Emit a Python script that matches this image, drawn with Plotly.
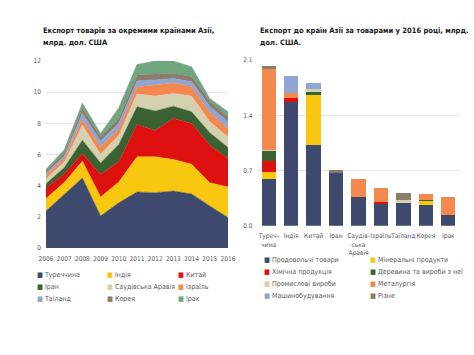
import plotly.graph_objects as go

# ---------------- Data: left chart (exports by country, bn USD) ----------------
years = [2006, 2007, 2008, 2009, 2010, 2011, 2012, 2013, 2014, 2015, 2016]
turkey = [2.38, 3.45, 4.50, 2.06, 2.90, 3.60, 3.55, 3.66, 3.47, 2.70, 1.95]
india = [0.79, 0.75, 1.07, 1.22, 1.34, 2.25, 2.30, 2.02, 1.91, 1.48, 1.97]
china = [0.68, 0.55, 0.49, 1.43, 1.29, 2.08, 1.69, 2.63, 2.61, 2.42, 1.82]
iran = [0.28, 0.40, 0.86, 0.75, 1.11, 1.13, 1.25, 0.79, 0.75, 0.80, 0.71]
saudi = [0.32, 0.35, 0.96, 0.56, 0.60, 0.82, 0.96, 0.82, 1.01, 0.70, 0.68]
israel = [0.20, 0.25, 0.37, 0.48, 0.39, 0.47, 0.71, 0.68, 0.60, 0.60, 0.54]
thailand = [0.15, 0.15, 0.38, 0.36, 0.37, 0.36, 0.32, 0.28, 0.32, 0.40, 0.43]
korea = [0.15, 0.20, 0.33, 0.28, 0.30, 0.39, 0.38, 0.32, 0.33, 0.30, 0.32]
iraq = [0.10, 0.20, 0.34, 0.21, 0.70, 0.68, 0.84, 0.80, 0.63, 0.20, 0.32]

country_names = ["Туреччина", "Індія", "Китай", "Іран", "Саудівська Аравія",
                 "Ізраїль", "Таїланд", "Корея", "Ірак"]
country_values = [turkey, india, china, iran, saudi, israel, thailand, korea, iraq]
left_yticks = [0, 2, 4, 6, 8, 10, 12]

# ---------------- Data: right chart (2016 exports by product group) ----------------
bar_categories = ["Туреччина", "Індія", "Китай", "Іран", "Саудівська Аравія",
                  "Ізраїль", "Таїланд", "Корея", "Ірак"]
bar_ticklabels = ["Туреч-<br>чина", "Індія", "Китай", "Іран", "Саудів-<br>ська<br>Аравія",
                  "Ізраїль", "Таїланд", "Корея", "Ірак"]
food = [0.59, 1.57, 1.02, 0.67, 0.37, 0.28, 0.30, 0.265, 0.135]
mineral = [0.085, 0, 0.64, 0, 0, 0, 0, 0.05, 0]
chemical = [0.15, 0.05, 0, 0, 0, 0.02, 0, 0, 0]
wood = [0.13, 0, 0.04, 0, 0, 0, 0, 0.015, 0]
industrial = [0.01, 0, 0.03, 0, 0, 0, 0.02, 0, 0]
metallurgy = [1.02, 0.06, 0, 0, 0.22, 0.18, 0, 0.07, 0.235]
machinery = [0, 0.22, 0.08, 0, 0, 0, 0, 0, 0]
misc = [0.035, 0, 0, 0.03, 0, 0, 0.09, 0, 0]

product_names = ["Продовольчі товари", "Мінеральні продукти", "Хімічна продукція",
                 "Деревина та вироби з неї", "Промислові вироби", "Металургія",
                 "Машинобудування", "Різне"]
product_values = [food, mineral, chemical, wood, industrial, metallurgy, machinery, misc]
right_yticks = [0.0, 0.7, 1.4, 2.1]
right_yticktext = ["0.0", "0.7", "1.4", "2.1"]

left_title = ["Експорт товарів за окремими країнами Азії,", "млрд. дол. США"]
right_title = ["Експорт до країн Азії за товарами у 2016 році, млрд.", "дол. США."]

# ---------------- Styles ----------------
palette = ["#3d4a6e", "#f7c80f", "#de1010", "#3b6233", "#d5d0ae",
           "#f5884f", "#8ea6d4", "#8c7c6c", "#6fa67f"]
product_palette = ["#3d4a6e", "#f7c80f", "#de1010", "#3b6233", "#d5d0ae",
                   "#f5884f", "#8ea6d4", "#8c7c6c"]
FONT = "DejaVu Sans Condensed"
TXT = "#595959"
W, H = 474, 355


def px_x(x):
    return x / W


def px_y(y):
    return (H - y) / H


fig = go.Figure()

for name, vals, col in zip(country_names, country_values, palette):
    fig.add_trace(go.Scatter(
        x=years, y=vals, name=name, mode="lines", stackgroup="one",
        line=dict(width=0.5, color=col), fillcolor=col,
        xaxis="x", yaxis="y", showlegend=False, hoverinfo="x+y+name"))

for name, vals, col in zip(product_names, product_values, product_palette):
    fig.add_trace(go.Bar(
        x=bar_categories, y=vals, name=name, marker=dict(color=col, line=dict(width=0)),
        xaxis="x2", yaxis="y2", showlegend=False))

annotations = []
# Titles (one annotation per line to control line spacing)
for title, x0 in ((left_title, 41), (right_title, 258)):
    for line, yc in zip(title, (30, 43)):
        annotations.append(dict(
            text=f"<b>{line}</b>", x=px_x(x0), y=px_y(yc), xref="paper", yref="paper",
            xanchor="left", yanchor="middle", align="left", showarrow=False,
            font=dict(family=FONT, size=7.5, color="#1a1a1a")))

# Legend (left): 3 columns x 3 rows
lcols = [35, 105, 176]
lrows = [275, 287, 299]
for i, (name, col) in enumerate(zip(country_names, palette)):
    r, c = divmod(i, 3)
    annotations.append(dict(
        text=f"<span style='color:{col}'>■</span> {name}",
        x=px_x(lcols[c]), y=px_y(lrows[r]), xref="paper", yref="paper",
        xanchor="left", yanchor="middle", showarrow=False,
        font=dict(family=FONT, size=7, color=TXT)))

# Legend (right): 2 columns x 4 rows
rcols = [262, 368]
rrows = [260, 272, 284, 296]
for i, (name, col) in enumerate(zip(product_names, product_palette)):
    r, c = divmod(i, 2)
    annotations.append(dict(
        text=f"<span style='color:{col}'>■</span> {name}",
        x=px_x(rcols[c]), y=px_y(rrows[r]), xref="paper", yref="paper",
        xanchor="left", yanchor="middle", showarrow=False,
        font=dict(family=FONT, size=7, color=TXT)))

fig.update_layout(
    width=W, height=H,
    margin=dict(l=0, r=0, t=0, b=0),
    paper_bgcolor="white", plot_bgcolor="white",
    font=dict(family=FONT, size=7, color=TXT),
    barmode="stack", bargap=0.36,
    showlegend=False,
    annotations=annotations,
    xaxis=dict(domain=[px_x(46), px_x(228)], range=[2006, 2016],
               tickmode="array", tickvals=years, ticktext=[str(y) for y in years],
               showgrid=False, zeroline=False, showline=False, ticks="", tickangle=0,
               ticklabelstandoff=5,
               tickfont=dict(family=FONT, size=6.5, color=TXT), automargin=False),
    yaxis=dict(domain=[px_y(248), px_y(61)], range=[0, 12],
               tickmode="array", tickvals=left_yticks,
               showgrid=True, gridcolor="#e3e3e3", gridwidth=1,
               zeroline=False, showline=False, ticks="", ticklabelstandoff=4,
               tickfont=dict(family=FONT, size=6.5, color=TXT), automargin=False),
    xaxis2=dict(domain=[px_x(257.5), px_x(459.5)], anchor="y2",
                tickmode="array", tickvals=bar_categories, ticktext=bar_ticklabels,
                showgrid=False, zeroline=False, showline=False, ticks="",
                tickangle=0, ticklabelstandoff=5,
                tickfont=dict(family=FONT, size=6.6, color=TXT), automargin=False),
    yaxis2=dict(domain=[px_y(225.7), px_y(60)], range=[0, 2.1], anchor="x2",
                tickmode="array", tickvals=right_yticks, ticktext=right_yticktext,
                showgrid=True, gridcolor="#e3e3e3", gridwidth=1,
                zeroline=False, showline=False, ticks="", ticklabelstandoff=4,
                tickfont=dict(family=FONT, size=6.5, color=TXT), automargin=False),
)

fig.write_html("out.html", config={"displayModeBar": False},
               post_script="document.body.style.margin='0';")
